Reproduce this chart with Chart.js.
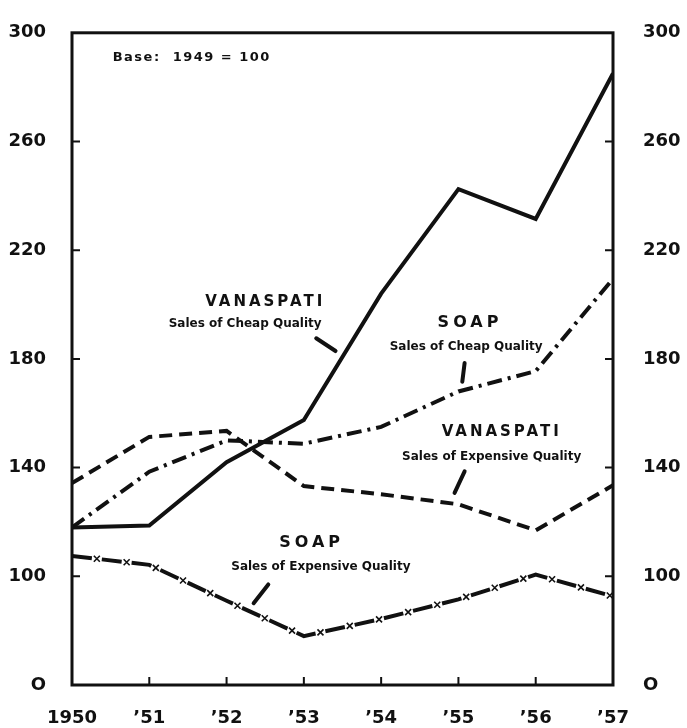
<html>
<head>
  <title>Vanaspati and Soap sales</title>
  <script src="https://cdn.jsdelivr.net/npm/chart.js"></script>
  <style>
    body { margin: 0; background: #fff; }
    #box { width: 687px; height: 728px; }
  </style>
</head>
<body>
  <div id="box"><canvas id="grafico" width="687" height="728"></canvas></div>

  <script>
    // data (index, 1949 = 100)
    const years = [1950, 1951, 1952, 1953, 1954, 1955, 1956, 1957];
    const yearLabels = ['1950', '’51', '’52', '’53', '’54', '’55', '’56', '’57'];
    const vanaspatiCheap = [118, 118.7, 142, 157.5, 204, 242.5, 231.5, 285];
    const soapCheap = [118, 138.5, 150, 148.8, 155, 168, 175.5, 209.5];
    const vanaspatiExpensive = [134.3, 151.3, 153.5, 133.2, 130.2, 126.5, 116.9, 133.5];
    const soapExpensive = [107.5, 104.2, 91, 78, 84.3, 91.5, 100.6, 92.6];
    // broken axis: bottom of the scale is labelled 0
    const yTickValues = [60, 100, 140, 180, 220, 260, 300];
    const yTickLabels = ['O', '100', '140', '180', '220', '260', '300'];

    const ink = '#111';

    // labels written on the chart, placed in data units
    const notes = [
      { text: 'Base:  1949 = 100', x: 1951.55, y: 291, font: 'bold 13px "DejaVu Sans"', spacing: '1.5px' },
      { text: 'VANASPATI', x: 1952.5, y: 201, font: 'bold 15px "DejaVu Sans"', spacing: '3px' },
      { text: 'Sales of Cheap Quality', x: 1952.24, y: 193, font: 'bold 12px "DejaVu Sans"', spacing: '0px' },
      { text: 'SOAP', x: 1955.15, y: 193.3, font: 'bold 16px "DejaVu Sans"', spacing: '4px' },
      { text: 'Sales of Cheap Quality', x: 1955.1, y: 184.3, font: 'bold 12px "DejaVu Sans"', spacing: '0px' },
      { text: 'VANASPATI', x: 1955.56, y: 153.2, font: 'bold 15px "DejaVu Sans"', spacing: '3px' },
      { text: 'Sales of Expensive Quality', x: 1955.43, y: 144.1, font: 'bold 12px "DejaVu Sans"', spacing: '0px' },
      { text: 'SOAP', x: 1953.1, y: 112.2, font: 'bold 16px "DejaVu Sans"', spacing: '4px' },
      { text: 'Sales of Expensive Quality', x: 1953.22, y: 103.5, font: 'bold 12px "DejaVu Sans"', spacing: '0px' }
    ];
    const pointers = [
      [1953.16, 187.6, 1953.41, 182.9],
      [1955.08, 178.5, 1955.05, 171.6],
      [1955.08, 138.6, 1954.95, 130.7],
      [1952.54, 97.0, 1952.35, 90.1]
    ];

    const pts = arr => arr.map((v, i) => ({ x: years[i], y: v }));

    const moldura = {
      id: 'moldura',
      afterDraw(chart) {
        const { ctx, chartArea: a, scales } = chart;
        ctx.save();
        ctx.strokeStyle = ink;
        ctx.lineWidth = 3;
        ctx.strokeRect(a.left, a.top, a.right - a.left, a.bottom - a.top);
        // inward tick marks
        ctx.lineWidth = 2;
        ctx.beginPath();
        yTickValues.slice(1, -1).forEach(v => {
          const y = scales.y.getPixelForValue(v);
          ctx.moveTo(a.left, y); ctx.lineTo(a.left + 8, y);
          ctx.moveTo(a.right, y); ctx.lineTo(a.right - 8, y);
        });
        years.slice(1, -1).forEach(v => {
          const x = scales.x.getPixelForValue(v);
          ctx.moveTo(x, a.bottom); ctx.lineTo(x, a.bottom - 8);
        });
        ctx.stroke();

        // pointers
        ctx.lineWidth = 4;
        ctx.lineCap = 'round';
        ctx.beginPath();
        pointers.forEach(p => {
          ctx.moveTo(scales.x.getPixelForValue(p[0]), scales.y.getPixelForValue(p[1]));
          ctx.lineTo(scales.x.getPixelForValue(p[2]), scales.y.getPixelForValue(p[3]));
        });
        ctx.stroke();

        // notes
        ctx.fillStyle = ink;
        ctx.textAlign = 'center';
        ctx.textBaseline = 'middle';
        notes.forEach(n => {
          ctx.font = n.font;
          ctx.letterSpacing = n.spacing;
          ctx.fillText(n.text, scales.x.getPixelForValue(n.x), scales.y.getPixelForValue(n.y));
        });
        ctx.restore();
      },
      afterDatasetsDraw(chart) {
        // small crosses in the gaps of the soap (expensive) line
        const meta = chart.getDatasetMeta(3);
        const p = meta.data;
        const ctx = chart.ctx;
        const period = 30, at = 25;
        ctx.save();
        ctx.strokeStyle = ink;
        ctx.lineWidth = 1.6;
        let dist = 0;
        let next = at;
        for (let i = 0; i < p.length - 1; i++) {
          const dx = p[i + 1].x - p[i].x, dy = p[i + 1].y - p[i].y;
          const len = Math.hypot(dx, dy);
          while (next <= dist + len) {
            const t = (next - dist) / len;
            const cx = p[i].x + dx * t, cy = p[i].y + dy * t;
            ctx.beginPath();
            ctx.moveTo(cx - 3, cy - 3); ctx.lineTo(cx + 3, cy + 3);
            ctx.moveTo(cx + 3, cy - 3); ctx.lineTo(cx - 3, cy + 3);
            ctx.stroke();
            next += period;
          }
          dist += len;
        }
        ctx.restore();
      }
    };

    const linha = (data, dash) => ({
      data: pts(data),
      borderColor: ink,
      borderWidth: 4,
      borderDash: dash,
      pointRadius: 0,
      tension: 0,
      fill: false
    });

    const yEixo = (pos, w, pad) => ({
      type: 'linear',
      position: pos,
      min: 60,
      max: 300,
      grid: { display: false },
      border: { display: false },
      afterFit(s) { s.width = w; },
      afterBuildTicks(s) { s.ticks = yTickValues.map(v => ({ value: v })); },
      ticks: {
        padding: pad,
        color: ink,
        font: { family: 'DejaVu Sans', size: 18, weight: 'bold' },
        callback: v => yTickLabels[yTickValues.indexOf(v)]
      }
    });

    new Chart(document.getElementById('grafico').getContext('2d'), {
      type: 'line',
      data: {
        datasets: [
          linha(vanaspatiCheap, []),
          linha(soapCheap, [15, 6, 3, 6]),
          linha(vanaspatiExpensive, [13, 7]),
          linha(soapExpensive, [20, 10])
        ]
      },
      options: {
        responsive: false,
        animation: false,
        layout: { padding: { top: 23 } },
        plugins: { legend: { display: false }, tooltip: { enabled: false } },
        scales: {
          x: {
            type: 'linear',
            min: 1950,
            max: 1957,
            grid: { display: false },
            border: { display: false },
            afterFit(s) { s.height = 43; },
            afterBuildTicks(s) { s.ticks = years.map(v => ({ value: v })); },
            ticks: {
              padding: 15,
              color: ink,
              font: { family: 'DejaVu Sans', size: 18, weight: 'bold' },
              callback: v => yearLabels[years.indexOf(v)]
            }
          },
          y: yEixo('left', 72, 18),
          y2: yEixo('right', 74, 22)
        }
      },
      plugins: [moldura]
    });
  </script>
</body>
</html>
